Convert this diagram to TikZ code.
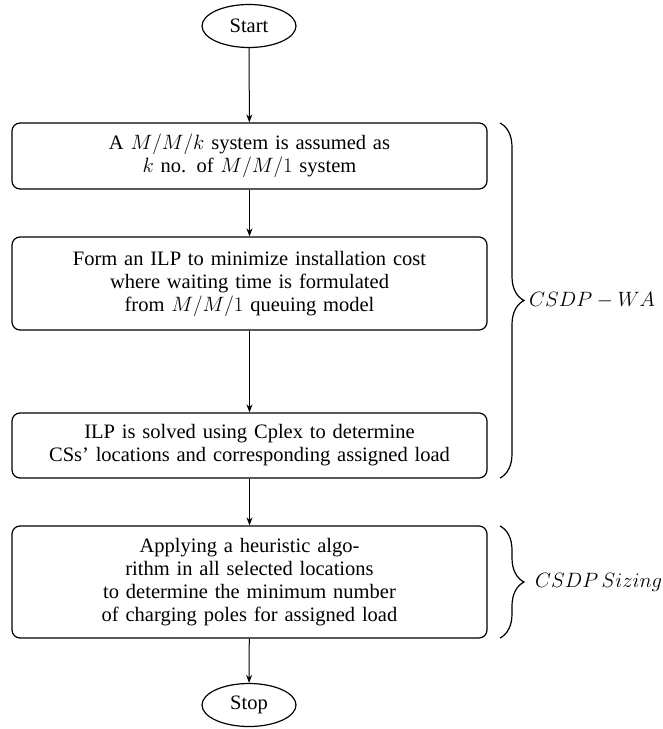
\documentclass[tikz,border=0pt]{standalone}
\usepackage{fontspec}
\setmainfont{Liberation Serif}
\usetikzlibrary{arrows.meta,decorations.pathreplacing,shapes.geometric}
\begin{document}
\begin{tikzpicture}[x=1pt,y=-1pt,
 box/.style={draw, rounded corners=8pt, line width=1.2pt, minimum width=475pt, text width=470pt, align=center, inner sep=0pt, font=\fontsize{20.5}{23}\selectfont},
 term/.style={draw, ellipse, line width=1.2pt, minimum width=94pt, minimum height=43pt, inner sep=0pt, font=\fontsize{20.5}{23}\selectfont},
 arr/.style={-{Stealth[length=8pt,width=6pt]}, line width=1pt},
 brc/.style={decorate, decoration={brace, amplitude=24pt}, line width=1.2pt},
 lab/.style={font=\fontsize{20}{24}\selectfont, anchor=west, inner sep=2pt}]
\useasboundingbox (0,0) rectangle (662,729);
\node[term] (start) at (249,26) {Start};
\node[box, minimum height=66pt] (b1) at (249.5,156) {A $M/M/k$ system is assumed as\\ $k$ no. of $M/M/1$ system};
\node[box, minimum height=93pt] (b2) at (249.5,283.5) {Form an ILP to minimize installation cost\\ where waiting time is formulated\\ from $M/M/1$ queuing model};
\node[box, minimum height=65pt] (b3) at (249.5,445.5) {ILP is solved using Cplex to determine\\ CSs' locations and corresponding assigned load};
\node[box, minimum height=112pt] (b4) at (249.5,582) {Applying a heuristic algo-\\ rithm in all selected locations\\ to determine the minimum number\\ of charging poles for assigned load};
\node[term] (stop) at (249,705) {Stop};
\draw[arr] (start) -- (b1);
\draw[arr] (b1) -- (b2);
\draw[arr] (b2) -- (b3);
\draw[arr] (b3) -- (b4);
\draw[arr] (b4) -- (stop);
\coordinate (w1) at (500,123);
\coordinate (w2) at (500,478);
\coordinate (s1) at (500,526);
\coordinate (s2) at (500,638);
\draw[brc] (w1) -- (w2);
\draw[brc] (s1) -- (s2);
\node[lab] (wa) at (527,300.5) {$CSDP-WA$};
\node[lab] (sz) at (533,582) {$CSDP\,Sizing$};
\end{tikzpicture}
\end{document}
